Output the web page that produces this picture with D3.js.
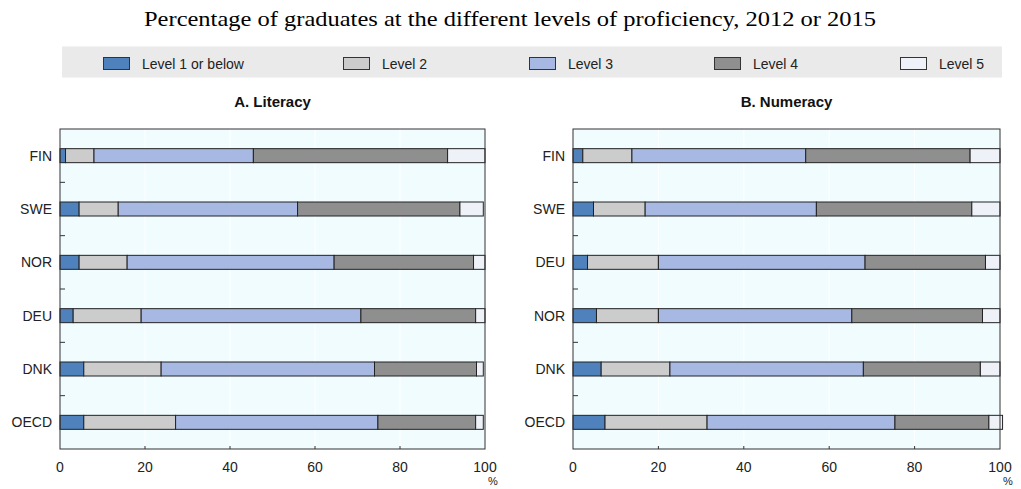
<!DOCTYPE html>
<html>
<head>
<meta charset="utf-8">
<script src="https://cdn.jsdelivr.net/npm/d3@7"></script>
<style>
  body { margin: 0; background: #fff; }
  svg text { font-family: "Liberation Sans", Arial, sans-serif; fill: #222; }
</style>
</head>
<body>
<svg id="chart" width="1021" height="489"></svg>
<script>
// data (percent of graduates)
const levels = ["Level 1 or below", "Level 2", "Level 3", "Level 4", "Level 5"];
const colors = ["#4f81bd", "#cccccc", "#a7b9e3", "#8f8f8f", "#eef2f8"];

const litCountries = ["FIN", "SWE", "NOR", "DEU", "DNK", "OECD"];
const litLevel1 = [1.3, 4.5, 4.5, 3.1, 5.6, 5.6];
const litLevel2 = [6.7, 9.2, 11.3, 16.0, 18.2, 21.6];
const litLevel3 = [37.5, 42.2, 48.7, 51.7, 50.2, 47.6];
const litLevel4 = [45.7, 38.2, 32.8, 27.0, 24.0, 23.0];
const litLevel5 = [8.8, 5.5, 2.7, 2.2, 1.6, 1.8];

const numCountries = ["FIN", "SWE", "DEU", "NOR", "DNK", "OECD"];
const numLevel1 = [2.3, 4.8, 3.4, 5.5, 6.6, 7.5];
const numLevel2 = [11.5, 12.1, 16.6, 14.5, 16.1, 23.9];
const numLevel3 = [40.7, 40.1, 48.4, 45.3, 45.3, 44.0];
const numLevel4 = [38.5, 36.4, 28.2, 30.6, 27.4, 22.0];
const numLevel5 = [7.0, 6.6, 3.4, 4.1, 4.6, 3.2];

const xTicks = [0, 20, 40, 60, 80, 100];

const svg = d3.select("#chart");

// title
svg.append("text")
    .attr("x", 510)
    .attr("y", 26)
    .attr("text-anchor", "middle")
    .attr("textLength", 732)
    .attr("lengthAdjust", "spacingAndGlyphs")
    .style("font-family", "'Liberation Serif', 'Times New Roman', serif")
    .style("font-size", "21px")
    .style("fill", "#000")
    .text("Percentage of graduates at the different levels of proficiency, 2012 or 2015");

// legend band
svg.append("rect")
    .attr("x", 62).attr("y", 46.5)
    .attr("width", 940).attr("height", 31)
    .attr("fill", "#eaeaea");

const legendX = [103, 343, 529, 714, 900];
levels.forEach((lv, i) => {
    svg.append("rect")
        .attr("x", legendX[i] + 0.5).attr("y", 57.5)
        .attr("width", 26).attr("height", 12)
        .attr("fill", colors[i])
        .attr("stroke", "#333").attr("stroke-width", 1);
    svg.append("text")
        .attr("x", legendX[i] + 39)
        .attr("y", 69)
        .style("font-size", "14px")
        .text(lv);
});

function buildRows(countries, series) {
    return countries.map((c, i) => {
        const row = { country: c };
        levels.forEach((lv, j) => { row[lv] = series[j][i]; });
        return row;
    });
}

function drawPanel(title, countries, series, x0, x1) {
    const top = 129, bottom = 449;
    const rows = buildRows(countries, series);

    const x = d3.scaleLinear().domain([0, 100]).range([x0, x1]);
    const y = d3.scaleBand().domain(countries).range([top, bottom]).paddingInner(0);
    const barH = 14;

    const g = svg.append("g");

    // plot background
    g.append("rect")
        .attr("x", x0).attr("y", top)
        .attr("width", x1 - x0).attr("height", bottom - top)
        .attr("fill", "#f1fcff");

    // faint vertical gridlines
    g.selectAll(".grid")
        .data(xTicks.slice(1, -1))
        .enter().append("line")
        .attr("x1", d => x(d)).attr("x2", d => x(d))
        .attr("y1", top).attr("y2", bottom)
        .attr("stroke", "#ffffff").attr("stroke-width", 1);

    // stacked bars
    const stacked = d3.stack().keys(levels)(rows);
    g.selectAll(".layer")
        .data(stacked)
        .enter().append("g")
        .attr("fill", (d, i) => colors[i])
        .selectAll("rect")
        .data(d => d)
        .enter().append("rect")
        .attr("x", d => x(d[0]))
        .attr("y", d => y(d.data.country) + y.bandwidth() / 2 - barH / 2)
        .attr("width", d => x(d[1]) - x(d[0]))
        .attr("height", barH)
        .attr("stroke", "#222")
        .attr("stroke-width", 1);

    // frame
    g.append("rect")
        .attr("x", x0).attr("y", top)
        .attr("width", x1 - x0).attr("height", bottom - top)
        .attr("fill", "none")
        .attr("stroke", "#333").attr("stroke-width", 1);

    // y tick marks between categories (inward)
    g.selectAll(".ytick")
        .data(countries.slice(1))
        .enter().append("line")
        .attr("x1", x0).attr("x2", x0 + 5)
        .attr("y1", d => y(d)).attr("y2", d => y(d))
        .attr("stroke", "#333");

    // category labels
    g.selectAll(".ylab")
        .data(countries)
        .enter().append("text")
        .attr("x", x0 - 8)
        .attr("y", d => y(d) + y.bandwidth() / 2 + 5)
        .attr("text-anchor", "end")
        .style("font-size", "14px")
        .text(d => d);

    // x ticks (inward) and labels
    g.selectAll(".xtick")
        .data(xTicks.slice(1, -1))
        .enter().append("line")
        .attr("x1", d => x(d)).attr("x2", d => x(d))
        .attr("y1", bottom).attr("y2", bottom - 3)
        .attr("stroke", "#333");

    g.selectAll(".xlab")
        .data(xTicks)
        .enter().append("text")
        .attr("x", d => x(d))
        .attr("y", 472)
        .attr("text-anchor", "middle")
        .style("font-size", "14px")
        .text(d => d);

    g.append("text")
        .attr("x", x1 + 8)
        .attr("y", 485)
        .attr("text-anchor", "middle")
        .style("font-size", "11px")
        .text("%");

    // panel title
    svg.append("text")
        .attr("x", (x0 + x1) / 2)
        .attr("y", 107)
        .attr("text-anchor", "middle")
        .style("font-size", "15px")
        .style("font-weight", "bold")
        .style("fill", "#111")
        .text(title);
}

drawPanel("A. Literacy", litCountries,
    [litLevel1, litLevel2, litLevel3, litLevel4, litLevel5], 60, 485);
drawPanel("B. Numeracy", numCountries,
    [numLevel1, numLevel2, numLevel3, numLevel4, numLevel5], 573, 1000);
</script>
</body>
</html>
